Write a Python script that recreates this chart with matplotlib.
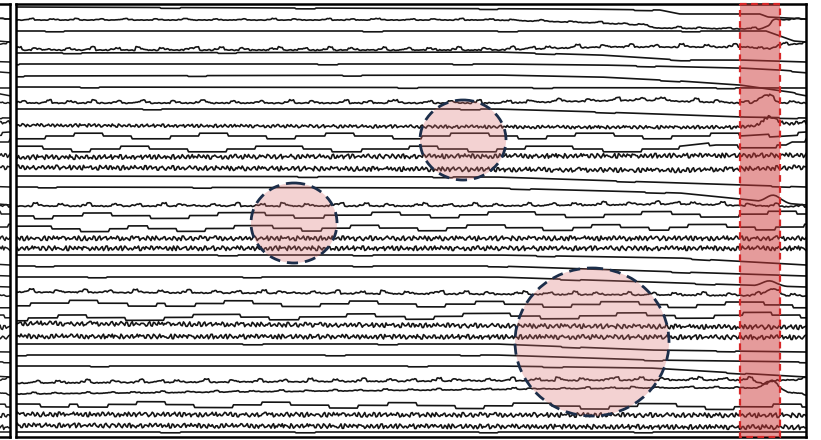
import numpy as np
import matplotlib
matplotlib.use("Agg")
import matplotlib.pyplot as plt
from matplotlib.patches import Ellipse, Rectangle

W, H = 821, 440
SPAN = 790.0
DT = 1.25
t = np.arange(0, SPAN + 0.01, DT)      # sample positions along the record
n = t.size

# channel baselines (vertical offsets, top to bottom)
offsets = [7, 20, 31, 50, 53, 64, 76, 87, 103, 109,
           125, 136, 149, 157, 167, 176, 187, 206, 216, 229,
           238, 248, 255, 266, 277, 292, 303, 318, 323, 336,
           344, 355, 366, 383, 394, 404, 414, 425, 432]

# kind of activity on each channel
kinds = ['flat', 'wavy_l', 'flat', 'wavy', 'flat', 'flat', 'flat', 'flat', 'wavy', 'flat',
         'noisy_l', 'step', 'step', 'noisy', 'noisy', 'flat', 'flat', 'wavy', 'step', 'step',
         'noisy', 'noisy', 'flat', 'flat', 'flat', 'wavy', 'step', 'step', 'noisy', 'noisy',
         'flat', 'flat', 'flat', 'wavy', 'wavy_l', 'step', 'noisy', 'noisy', 'flat']

# slow baseline drift per channel: (position, shift)
drifts = [
    [(0, 0), (560, 2), (644, 3), (664, 7), (744, 7), (752, 10), (790, 12)],
    [(0, 0), (480, 0), (584, 3), (624, 5), (640, 8), (744, 9), (752, 6), (758, 0), (790, -1)],
    [(0, 0), (750, 0), (778, 10), (790, 11)],
    [(0, 0), (480, 0), (584, -3), (744, -3), (790, -7)],
    [(0, 0), (480, -1), (584, 2), (664, 7), (724, 7), (790, 9)],
    [(0, 0), (480, 0), (584, 1), (724, 4), (764, 6), (790, 8)],
    [(0, 0), (480, -1), (584, 1), (664, 5), (724, 9), (774, 16), (790, 19)],
    [(0, 0), (790, 1)],
    [(0, 0), (480, 0), (624, -3), (724, 0), (790, 0)],
    [(0, 0), (480, 0), (584, 3), (724, 8), (790, 9)],
    [(0, 0), (584, 2), (724, 2), (790, -3)],
    [(0, 0), (724, 0), (790, -4)],
    [(0, 0), (664, 0), (700, -4), (770, -4), (776, -7), (790, -7)],
    [(0, 0), (790, -2)],
    [(0, 0), (664, 3), (790, 0)],
    [(0, 0), (480, 1), (664, 7), (790, 11)],
    [(0, 0), (480, 1), (664, 6), (744, 14), (790, 18)],
    [(0, 0), (480, 0), (664, -2), (790, 1)],
    [(0, 0), (790, -2)],
    [(0, 0), (790, -2)],
    [(0, 0), (790, 0)],
    [(0, 0), (790, 0)],
    [(0, 0), (480, 0), (664, 3), (790, 10)],
    [(0, 0), (480, 0), (664, 6), (790, 10)],
    [(0, 0), (480, 0), (664, 6), (790, 10)],
    [(0, 0), (664, 3), (790, 4)],
    [(0, 0), (790, 2)],
    [(0, 0), (790, -3)],
    [(0, 0), (790, 4)],
    [(0, 0), (790, 1)],
    [(0, 0), (480, 0), (634, 6), (790, 8)],
    [(0, 0), (480, 0), (634, 5), (790, 7)],
    [(0, 0), (480, 0), (634, 2), (790, 11)],
    [(0, 0), (634, -3), (790, -3)],
    [(0, 0), (634, -6), (744, -6), (790, 1)],
    [(0, 0), (790, 3)],
    [(0, 0), (790, 1)],
    [(0, 0), (790, 2)],
    [(0, 0), (790, 0)],
]

# transient deflections inside the artifact window: (channel, centre, amplitude)
humps = [(3, 752, 3), (8, 752, -7), (10, 756, -8), (16, 760, -7),
         (24, 756, -5), (25, 758, -6), (33, 752, 4), (34, 758, -8)]
HUMP = [0, .12, .3, .53, .76, .94, 1, .94, .76, .53, .35, .18, .06, 0]
HUMP_STEP = 2.5

# per-channel phase of the activity pattern
shifts = [0, 37, 81, 12, 150, 63, 200, 95, 44, 120,
          17, 0, 30, 0, 9, 55, 140, 70, 15, 45,
          88, 97, 23, 77, 160, 110, 60, 5, 130, 139,
          33, 66, 99, 180, 210, 25, 200, 207, 0]

NOISE_A = ("4637258146 3759264815 5274936182 4739158264 6381527494 "
           "2856193748 5162748395 3847261958 6419375284 2758364917 "
           "4862519374 5938274615 3746182957 6283914756 4157382964 "
           "8362715493 5741829364 2953847162 7468192535 3829475168 "
           "4716283954 6593827416 3284756193 7152948364 4938261575 "
           "2846371958 5719384262 4638275914 3957162848 6274839515 "
           "7384615293 4162938577")
NOISE_B = ("5284736195 4617382954 3859164728 6293847516 4718265394 "
           "5936182747 3462958173 8147365294 2659483716 5384172965 "
           "4728396154 6159284733 2846375918 7394162855 4625839174 "
           "3817462959 6284735162 5719364828 4163827495 3958274616 "
           "7426183954 2865497313 5947382616 4382916574 6819375242 "
           "3576284919 4728163856 5193847262 2648395175 3857264918 "
           "6294715384 4173856292")
WAVE_A = ("0013100002 1000131000 0210001200 0013000210 0001300012 "
          "0002310000 1200021000 1300001200 0210001310 0002100013 "
          "0001200231 0000130002 1000120001 3000210012 0001300021 "
          "0013000120")
WAVE_B = ("1000210013 0001200031 0002100012 3000130002 1000021300 "
          "0120001300 0210000130 0012000210 0013000021 0001300120 "
          "0210001300 0021000130 0012000031 0002100013 0000210012 "
          "0001300210")
STEP_A = "1110001111222211100000111222111110001112221110000011122221111000111222211100011122"
STEP_B = "0011122211100001112211100011112221100001111222110001112211000011122111000011122211"
STEP_C = "2221110001112222111000111122211100011112221110000111222111000011122211110001112221"
FLAT = "0000000000000001100000000000011000000000000000001100000000000000110000000000000000"


def digits(s):
    return np.array([int(c) for c in s.replace(" ", "")], float)


def resample(v):
    idx = (np.arange(n) * len(v) / n).astype(int)
    return v[idx]


# fine-grained noise: the two noise records interleaved sample by sample
na, nb = digits(NOISE_A), digits(NOISE_B)
NOISE_AB = np.ravel(np.column_stack([na, nb]))
NOISE_BA = np.ravel(np.column_stack([nb, na[::-1]]))

sources = {'flat': [digits(FLAT)],
           'wavy': [digits(WAVE_A), digits(WAVE_B)],
           'wavy_l': [digits(WAVE_B), digits(WAVE_A)],
           'step': [digits(STEP_A), digits(STEP_B), digits(STEP_C)],
           'noisy': [NOISE_AB, NOISE_BA],
           'noisy_l': [NOISE_BA, NOISE_AB]}
centre = {'flat': 0, 'wavy': 0, 'wavy_l': 0, 'step': 1, 'noisy': 4.5, 'noisy_l': 4.5}
scale = {'flat': 0.8, 'wavy': -1.0, 'wavy_l': -0.5, 'step': 2.8, 'noisy': 0.55, 'noisy_l': 0.38}
jitter = {'wavy': 0.12, 'wavy_l': 0.06}


def channel(i):
    kind = kinds[i]
    srcs = sources[kind]
    v = np.roll(resample(srcs[i % len(srcs)]), 2 * shifts[i])
    y = (v - centre[kind]) * scale[kind]
    if kind in jitter:
        y = y + (np.roll(resample(NOISE_AB), 2 * shifts[i] + 23) - 4.5) * jitter[kind]
    xs, ds = zip(*drifts[i])
    y = y + np.interp(t, xs, ds)
    for ch, pos, amp in humps:
        if ch == i:
            hx = pos + (np.arange(len(HUMP)) - len(HUMP) // 2) * HUMP_STEP
            y = y + amp * np.interp(t, hx, HUMP, left=0, right=0)
    return offsets[i] + y


traces = [channel(i) for i in range(len(offsets))]

fig = plt.figure(figsize=(W / 100, H / 100), dpi=100)
fig.patch.set_facecolor("white")


def style(a):
    a.set_xlim(0, SPAN)
    a.set_ylim(437, 4)
    a.set_xticks([])
    a.set_yticks([])
    for s in a.spines.values():
        s.set_linewidth(1.8)
        s.set_color("black")


# neighbouring panel, only its right edge is in view
axl = fig.add_axes([(10 - SPAN) / W, 3 / H, SPAN / W, 433 / H])
style(axl)
for y in traces:
    axl.plot(t, y, color="#1a1a1a", lw=1.1)

ax = fig.add_axes([16 / W, 3 / H, SPAN / W, 433 / H])
style(ax)
for y in traces:
    ax.plot(t, y, color="#141414", lw=1.2, zorder=2)

# highlighted regions of interest
regions = [(447, 140, 86, 80), (278, 223, 86, 80), (576, 342, 154, 148)]
for cx, cy, w, h in regions:
    ax.add_patch(Ellipse((cx, cy), w, h, facecolor=(0.86, 0.45, 0.45, 0.32),
                         edgecolor="#1c2e4a", lw=2.0, ls=(0, (4, 2.5)), zorder=4))

# artifact window
win_start, win_end = 724, 764
ax.add_patch(Rectangle((win_start, 4), win_end - win_start, 433,
                       facecolor=(0.8, 0.22, 0.22, 0.5), edgecolor="#d62728",
                       lw=1.6, ls=(0, (3, 2)), zorder=5, clip_on=False))

fig.savefig("out.png", dpi=100, facecolor="white")
